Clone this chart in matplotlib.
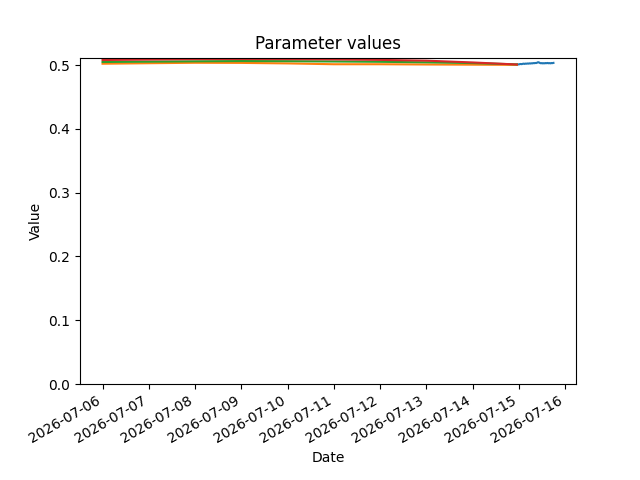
import numpy as np
import pandas as pd
import matplotlib
matplotlib.use("Agg")
import matplotlib.pyplot as plt

# daily parameter history
hist_dates = pd.to_datetime([
    "2026-07-06 00:00", "2026-07-07 00:00", "2026-07-08 00:00", "2026-07-09 00:00",
    "2026-07-10 00:00", "2026-07-11 00:00", "2026-07-12 00:00", "2026-07-13 00:00",
    "2026-07-14 00:00", "2026-07-14 23:00",
], format="%Y-%m-%d %H:%M")
param_a = [0.5020, 0.5028, 0.5035, 0.5033, 0.5025, 0.5012, 0.5012, 0.5008, 0.5005, 0.5002]
param_b = [0.5047, 0.5052, 0.5058, 0.5062, 0.5060, 0.5055, 0.5050, 0.5042, 0.5030, 0.5010]
param_c = [0.5078, 0.5085, 0.5092, 0.5094, 0.5092, 0.5088, 0.5080, 0.5068, 0.5040, 0.5008]

# half-hourly live values
live_dates = pd.date_range("2026-07-14 23:00", "2026-07-15 18:00", freq="30min")
live_vals = [0.5006, 0.5010, 0.5009, 0.5014, 0.5016, 0.5013, 0.5018, 0.5021,
             0.5017, 0.5022, 0.5020, 0.5024, 0.5021, 0.5026, 0.5023, 0.5027,
             0.5025, 0.5030, 0.5028, 0.5032, 0.5030, 0.5036, 0.5044, 0.5040,
             0.5031, 0.5027, 0.5030, 0.5025, 0.5029, 0.5026, 0.5031, 0.5028,
             0.5032, 0.5027, 0.5030, 0.5026, 0.5031, 0.5029, 0.5033]

fig, ax = plt.subplots(figsize=(6.4, 4.8), dpi=100)
ax.plot(live_dates, live_vals, color="C0")
ax.plot(hist_dates, param_a, color="C1")
ax.plot(hist_dates, param_b, color="C2")
ax.plot(hist_dates, param_c, color="C3")

ax.set_ylim(0, 0.5116)
ax.set_title("Parameter values")
ax.set_xlabel("Date")
ax.set_ylabel("Value")
fig.autofmt_xdate()
fig.savefig("out.png")
